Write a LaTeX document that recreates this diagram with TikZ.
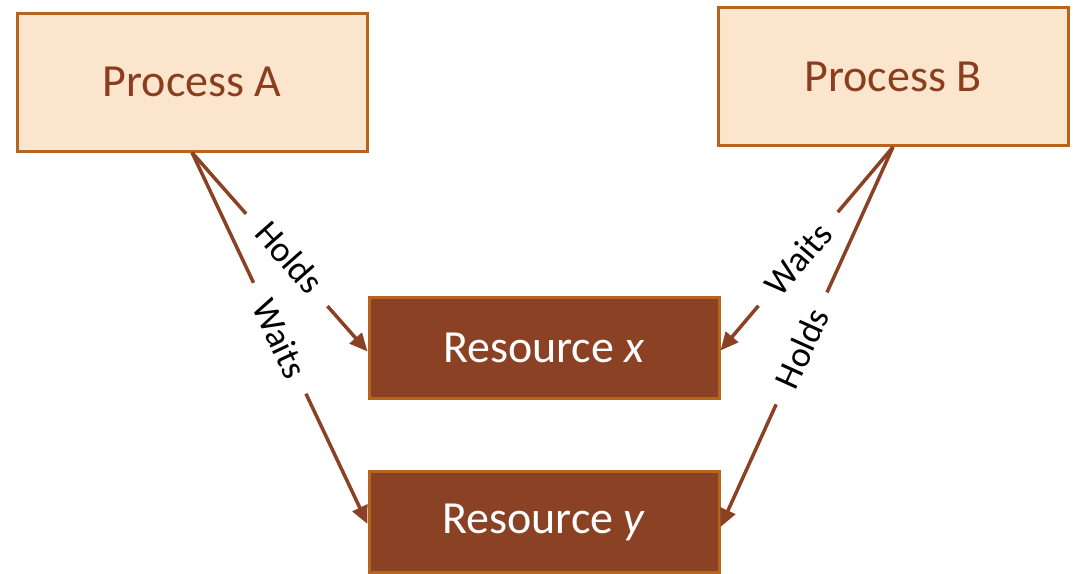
\documentclass[tikz,border=0pt]{standalone}
\usepackage{fontspec}
\setmainfont{Carlito}
\usetikzlibrary{arrows.meta}
\definecolor{peach}{HTML}{FBE5CD}
\definecolor{rim}{HTML}{B5651D}
\definecolor{rust}{HTML}{8B4124}
\definecolor{rusttext}{HTML}{8B3E1F}
\begin{document}
\begin{tikzpicture}[x=1pt,y=-1pt,
  procbox/.style={draw=rim,line width=3pt,fill=peach,minimum width=350pt,minimum height=138pt,
    text=rusttext,font=\fontsize{46}{50}\selectfont,inner sep=0pt},
  resbox/.style={draw=rim,line width=3pt,fill=rust,minimum width=350pt,minimum height=101pt,
    text=white,font=\fontsize{46}{50}\selectfont,inner sep=0pt},
  link/.style={draw=rust,line width=3.5pt,-{Triangle[length=18pt,width=16pt]}},
  tag/.style={fill=white,sloped,font=\fontsize{36}{40}\selectfont,inner xsep=20pt,inner ysep=3pt}]
\useasboundingbox (0,0) rectangle (1076,573);
\node[procbox] (pa) at (192,82) {Process A};
\node[procbox] (pb) at (893,76.5) {Process B};
\node[resbox] (rx) at (544,347.5) {Resource \textit{x}};
\node[resbox] (ry) at (544,522) {Resource \textit{y}};
\path[link] (pa.south) -- node[tag,pos=0.54,yshift=4pt] {Holds} ([yshift=-4pt]rx.west);
\path[link] (pa.south) -- node[tag,pos=0.5] {Waits} ([yshift=-2pt]ry.west);
\path[link] (pb.south) -- node[tag,pos=0.55] {Waits} ([yshift=-3pt]rx.east);
\path[link] (pb.south) -- node[tag,pos=0.53] {Holds} ([yshift=-5pt]ry.east);
\end{tikzpicture}
\end{document}
